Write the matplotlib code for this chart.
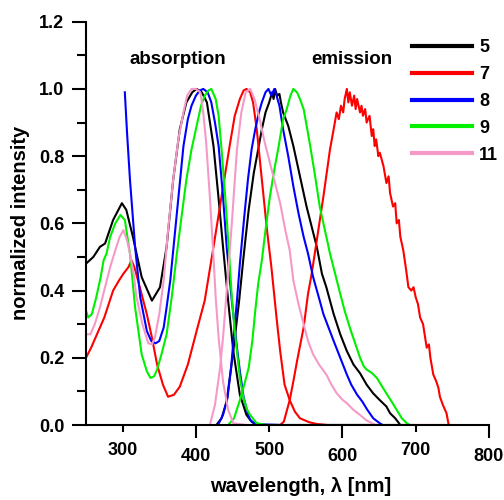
import matplotlib
matplotlib.use("Agg")
import matplotlib.pyplot as plt
from matplotlib.ticker import FixedLocator, FuncFormatter

plt.rcParams['font.family'] = ['Liberation Sans', 'DejaVu Sans']
plt.rcParams['font.weight'] = 'bold'

# compound 5 (black)
abs5_x = [250, 260, 269, 276, 287, 299, 305, 314, 326, 340, 351, 360, 369, 378, 387, 395,
          401, 408, 415, 424, 432, 437, 444, 451, 460, 469, 476, 482]
abs5_y = [0.48, 0.50, 0.53, 0.54, 0.61, 0.66, 0.64, 0.56, 0.44, 0.37, 0.41, 0.53, 0.73, 0.88,
          0.96, 0.99, 1.0, 0.99, 0.96, 0.83, 0.65, 0.53, 0.37, 0.22, 0.09, 0.03, 0.01, 0.0]
em5_x = [428, 435, 442, 451, 459, 465, 472, 479, 485, 490, 495, 500, 504, 506, 508, 511, 514,
         516, 519, 526, 533, 542, 551, 558, 565, 572, 578, 588, 597, 606, 615, 624, 633, 642,
         651, 660, 665, 672, 679]
em5_y = [0.0, 0.02, 0.07, 0.22, 0.37, 0.50, 0.64, 0.75, 0.82, 0.88, 0.93, 0.96, 0.99, 0.97,
         1.0, 0.98, 0.985, 0.96, 0.93, 0.89, 0.83, 0.74, 0.65, 0.59, 0.53, 0.45, 0.41, 0.33,
         0.27, 0.22, 0.18, 0.154, 0.12, 0.094, 0.074, 0.055, 0.035, 0.02, 0.0]

# compound 7 (red)
abs7_x = [250, 257, 265, 275, 287, 295, 301, 308, 312, 316, 321, 327, 333, 340, 347, 355, 362,
          370, 378, 389, 401, 412, 424, 435, 446, 453, 460, 465, 469, 474, 478, 483, 490, 497,
          503, 510, 515, 521, 528, 535, 542, 555, 565, 580, 650, 748]
abs7_y = [0.20, 0.23, 0.27, 0.32, 0.40, 0.43, 0.45, 0.47, 0.49, 0.47, 0.43, 0.38, 0.33, 0.26,
          0.18, 0.12, 0.084, 0.09, 0.114, 0.18, 0.28, 0.37, 0.53, 0.68, 0.83, 0.92, 0.97,
          0.995, 1.0, 0.99, 0.96, 0.88, 0.73, 0.58, 0.47, 0.32, 0.22, 0.12, 0.074, 0.04, 0.02,
          0.008, 0.003, 0.0, 0.0, 0.0]
em7_x = [515, 520, 528, 533, 538, 547, 553, 558, 565, 574, 583, 588, 592, 595, 598, 601, 603,
         606, 608, 610, 613, 616, 618, 620, 624, 626, 628, 631, 633, 637, 640, 642, 644, 646,
         649, 651, 656, 660, 663, 665, 669, 672, 674, 677, 679, 683, 687, 690, 694, 697, 700,
         703, 706, 710, 715, 718, 720, 724, 728, 731, 733, 737, 742, 745]
em7_y = [0.0, 0.01, 0.074, 0.13, 0.19, 0.29, 0.39, 0.45, 0.55, 0.68, 0.82, 0.88, 0.93, 0.91,
         0.95, 0.93, 0.97, 1.0, 0.96, 0.99, 0.95, 0.98, 0.94, 0.97, 0.93, 0.95, 0.92, 0.94,
         0.90, 0.92, 0.86, 0.88, 0.83, 0.85, 0.80, 0.81, 0.77, 0.72, 0.74, 0.69, 0.65, 0.66,
         0.60, 0.61, 0.56, 0.52, 0.46, 0.41, 0.40, 0.41, 0.38, 0.36, 0.32, 0.30, 0.23, 0.24,
         0.20, 0.15, 0.13, 0.11, 0.084, 0.06, 0.035, 0.0]

# compound 8 (blue)
abs8_x = [303, 306, 310, 317, 324, 333, 339, 345, 350, 356, 360, 365, 374, 383, 389, 394, 400,
          405, 410, 416, 421, 426, 431, 437, 442, 449, 456, 460, 465, 470, 474, 480, 490, 520, 650]
abs8_y = [0.99, 0.87, 0.73, 0.53, 0.38, 0.28, 0.25, 0.243, 0.25, 0.29, 0.35, 0.43, 0.63, 0.83,
          0.91, 0.95, 0.98, 0.995, 1.0, 0.99, 0.96, 0.90, 0.83, 0.68, 0.53, 0.37, 0.23, 0.16,
          0.084, 0.04, 0.015, 0.005, 0.002, 0.0, 0.0]
em8_x = [430, 437, 443, 448, 452, 456, 460, 466, 471, 476, 481, 486, 490, 495, 499, 503, 507,
         510, 514, 519, 526, 533, 540, 547, 553, 560, 569, 574, 581, 588, 597, 606, 612, 620,
         627, 634, 642, 651, 655]
em8_y = [0.0, 0.03, 0.08, 0.17, 0.27, 0.37, 0.48, 0.62, 0.73, 0.82, 0.88, 0.93, 0.96, 0.99,
         1.0, 0.98, 1.0, 0.98, 0.95, 0.88, 0.80, 0.71, 0.63, 0.56, 0.51, 0.44, 0.37, 0.33,
         0.29, 0.25, 0.20, 0.15, 0.12, 0.09, 0.07, 0.045, 0.02, 0.005, 0.0]

# compound 9 (green)
abs9_x = [250, 253, 258, 264, 270, 274, 278, 283, 290, 297, 303, 310, 317, 326, 333, 338, 343,
          347, 353, 360, 367, 374, 381, 387, 394, 401, 407, 412, 417, 421, 427, 431, 435, 440,
          445, 449, 453, 456, 460, 465, 470, 474, 483, 497, 697]
abs9_y = [0.34, 0.32, 0.33, 0.38, 0.44, 0.49, 0.51, 0.56, 0.60, 0.625, 0.61, 0.51, 0.35, 0.21,
          0.16, 0.14, 0.145, 0.165, 0.21, 0.27, 0.38, 0.51, 0.63, 0.73, 0.82, 0.89, 0.95,
          0.98, 0.995, 1.0, 0.97, 0.92, 0.82, 0.68, 0.52, 0.38, 0.28, 0.22, 0.14, 0.08, 0.045,
          0.03, 0.005, 0.0, 0.0]
em9_x = [444, 452, 460, 466, 472, 477, 481, 485, 490, 495, 501, 507, 513, 519, 524, 529, 533,
         538, 542, 547, 552, 556, 562, 569, 576, 583, 590, 597, 603, 610, 617, 624, 629, 633,
         640, 647, 654, 660, 667, 674, 681, 688, 692]
em9_y = [0.0, 0.02, 0.074, 0.12, 0.17, 0.25, 0.34, 0.42, 0.49, 0.58, 0.68, 0.76, 0.83, 0.91,
         0.94, 0.98, 1.0, 0.99, 0.97, 0.94, 0.88, 0.83, 0.75, 0.65, 0.58, 0.51, 0.45, 0.39,
         0.34, 0.29, 0.245, 0.20, 0.175, 0.165, 0.155, 0.14, 0.115, 0.094, 0.07, 0.045, 0.02,
         0.005, 0.0]

# compound 11 (pink)
abs11_x = [250, 256, 262, 269, 276, 283, 290, 296, 301, 306, 310, 315, 319, 327, 335, 340, 344,
           350, 356, 362, 369, 376, 383, 388, 394, 400, 406, 410, 414, 419, 424, 427, 431, 437,
           444, 451, 470, 500]
abs11_y = [0.27, 0.27, 0.30, 0.35, 0.41, 0.47, 0.52, 0.56, 0.58, 0.55, 0.51, 0.45, 0.38, 0.30,
           0.243, 0.24, 0.26, 0.33, 0.43, 0.58, 0.73, 0.85, 0.93, 0.98, 1.0, 1.0, 0.99, 0.93,
           0.84, 0.68, 0.50, 0.38, 0.26, 0.13, 0.045, 0.005, 0.0, 0.0]
em11_x = [419, 426, 433, 437, 441, 449, 456, 462, 468, 474, 480, 487, 494, 501, 508, 515, 522,
          528, 533, 540, 547, 553, 560, 568, 578, 585, 592, 600, 606, 615, 624, 632, 638, 645]
em11_y = [0.0, 0.06, 0.17, 0.26, 0.37, 0.60, 0.82, 0.93, 0.99, 1.0, 0.97, 0.91, 0.84, 0.78,
          0.72, 0.66, 0.58, 0.52, 0.43, 0.36, 0.30, 0.25, 0.21, 0.18, 0.15, 0.12, 0.095, 0.075,
          0.065, 0.045, 0.03, 0.015, 0.008, 0.0]

labels = ['5', '7', '8', '9', '11']
colors = ['black', '#ff0000', '#0000ff', '#00f000', '#f59ac8']
abs_x = [abs5_x, abs7_x, abs8_x, abs9_x, abs11_x]
abs_y = [abs5_y, abs7_y, abs8_y, abs9_y, abs11_y]
em_x = [em5_x, em7_x, em8_x, em9_x, em11_x]
em_y = [em5_y, em7_y, em8_y, em9_y, em11_y]

fig = plt.figure(figsize=(5.04, 5.0), dpi=100)
ax = fig.add_axes([86 / 504, 75 / 500, 403 / 504, 403.3 / 500])

for i in range(len(labels)):
    ax.plot(abs_x[i], abs_y[i], color=colors[i], lw=1.5, label=labels[i])
    ax.plot(em_x[i], em_y[i], color=colors[i], lw=1.5)

ax.set_xlim(250, 800)
ax.set_ylim(0, 1.2)
for s in ['top', 'right']:
    ax.spines[s].set_visible(False)
for s in ['left', 'bottom']:
    ax.spines[s].set_linewidth(1.5)

# staggered x labels: 400/600/800 major, 300/500/700 minor
ax.xaxis.set_major_locator(FixedLocator([400, 600, 800]))
ax.xaxis.set_minor_locator(FixedLocator([300, 500, 700]))
fmt = FuncFormatter(lambda v, p: f"{v:.0f}")
ax.xaxis.set_major_formatter(fmt)
ax.xaxis.set_minor_formatter(fmt)
ax.tick_params(axis='x', which='major', length=9.5, width=1.5, pad=7, labelsize=13)
ax.tick_params(axis='x', which='minor', length=5, width=1.5, pad=7, labelsize=13)

ax.yaxis.set_major_locator(FixedLocator([0, 0.2, 0.4, 0.6, 0.8, 1.0, 1.2]))
ax.yaxis.set_minor_locator(FixedLocator([0.1, 0.3, 0.5, 0.7, 0.9, 1.1]))
ax.yaxis.set_major_formatter(FuncFormatter(lambda v, p: f"{v:.1f}"))
ax.tick_params(axis='y', which='major', length=10, width=1.5, pad=5.5, labelsize=13)
ax.tick_params(axis='y', which='minor', length=6.5, width=1.5)

ax.set_xlabel('wavelength, λ [nm]', fontsize=14.5, fontweight='bold')
ax.xaxis.set_label_coords(0.533, -0.13)
ax.set_ylabel('normalized intensity', fontsize=14.5, fontweight='bold')
ax.yaxis.label.set_horizontalalignment('center')
ax.yaxis.label.set_verticalalignment('center')
ax.yaxis.set_label_coords(-0.162, 0.5)

ax.text(375, 1.087, 'absorption', fontsize=13.5, fontweight='bold', ha='center', va='center')
ax.text(613, 1.087, 'emission', fontsize=13.5, fontweight='bold', ha='center', va='center')

leg = ax.legend(loc='upper left', bbox_to_anchor=(412 / 504, 1 - 39 / 500),
                bbox_transform=fig.transFigure, frameon=False, fontsize=13,
                handlelength=3.3, handletextpad=0.42, labelspacing=0.55, borderpad=0,
                borderaxespad=0)
for line in leg.get_lines():
    line.set_linewidth(3)

fig.savefig('out.png', dpi=100)
